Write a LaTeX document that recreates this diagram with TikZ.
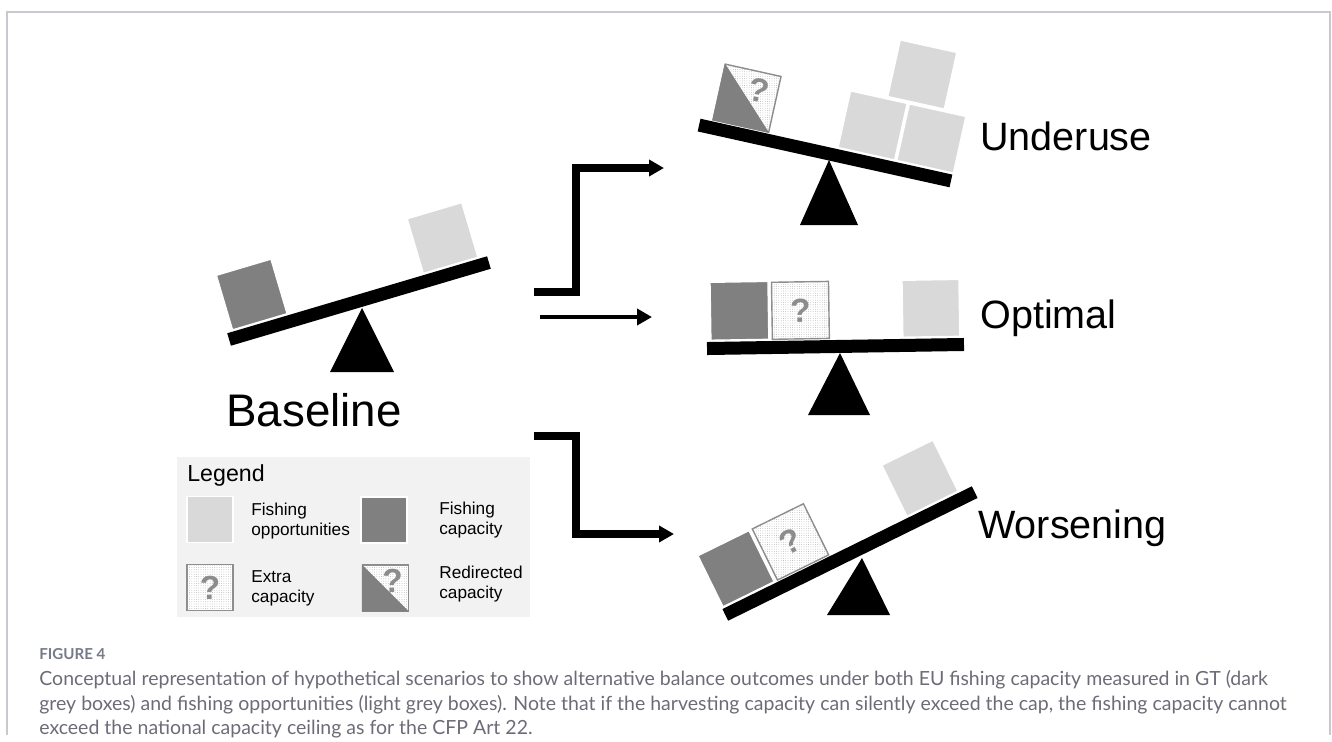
\documentclass[tikz,border=0pt]{standalone}
\usepackage{fontspec}
\setmainfont{Liberation Sans}
\newfontfamily\capfont{Lato}
\usepackage{tikz}
\usetikzlibrary{positioning,arrows.meta,calc,patterns.meta}
\definecolor{LightBox}{RGB}{217,217,217}
\definecolor{DarkBox}{RGB}{128,128,128}
\definecolor{QMark}{RGB}{140,140,140}
\definecolor{LegendBg}{RGB}{242,242,242}
\definecolor{FrameLine}{RGB}{200,200,206}
\definecolor{CapText}{RGB}{108,108,120}
\definecolor{CapHead}{RGB}{118,122,138}

\begin{document}
\begin{tikzpicture}[
    x=0.02cm, y=0.02cm,
    box/.style={rectangle, inner sep=0pt, draw=white, line width=0.8pt,
        minimum size=1.14cm, anchor=south},
    light/.style={box, fill=LightBox},
    dark/.style={box, fill=DarkBox},
    extra/.style={box, draw=QMark, fill=white,
        postaction={pattern={Dots[distance=1.3pt,radius=0.22pt]}, pattern color=gray!70},
        text=QMark, font=\fontsize{19}{19}\selectfont\bfseries},
    qmark/.style={inner sep=0pt, text=QMark, font=\fontsize{19}{19}\selectfont\bfseries},
    keybox/.style={minimum size=0.92cm, anchor=center},
    lbl/.style={anchor=west, inner sep=0pt, font=\fontsize{22.5}{27}\selectfont},
    key/.style={anchor=west, align=left, inner sep=0pt, font=\fontsize{9.8}{11.3}\selectfont},
    capline/.style={anchor=west, inner sep=0pt, text=CapText, font=\capfont\fontsize{11.1}{13}\selectfont},
    flow/.style={-{Triangle[length=0.3cm,width=0.32cm]}, line width=4pt}
]
\useasboundingbox (0,0) rectangle (1332,-741);
\draw[FrameLine, line width=1.2pt] (7,-735) -- (7,-12) -- (1330,-12) -- (1330,-735);

% baseline
\begin{scope}[shift={(359,-301)}, rotate=16.5, transform shape]
\fill (-135.5,-6.5) rectangle (135.5,6.5);
\node[dark]  (b1) at (-101,7.5) {};
\node[light] (b2) at (98,7.5) {};
\end{scope}
\fill (362,-308) -- (394,-372) -- (330,-372) -- cycle;
\node[anchor=west, inner sep=0pt, font=\fontsize{26}{30}\selectfont] (base) at (226,-410) {Baseline};

% underuse
\begin{scope}[shift={(825,-153)}, rotate=-12.5, transform shape]
\fill (-129,-6.5) rectangle (129,6.5);
\node[extra] (u1) at (-88,7.5) {};
\node[qmark] (u1q) at ($(u1.center)!0.35!(u1.north east)$) {?};
\fill[DarkBox] (u1.north west) -- (u1.south east) -- (u1.south west) -- cycle;
\node[light, minimum size=1.16cm] (u2) at (40.5,7.5) {};
\node[light, minimum size=1.16cm] (u3) at (100.7,7.5) {};
\node[light, minimum size=1.16cm] (u4) at (78,68) {};
\end{scope}
\fill (829,-160) -- (858,-225) -- (800,-225) -- cycle;
\node[lbl] (under) at (980,-136) {Underuse};

% optimal
\begin{scope}[shift={(835.5,-346.5)}, rotate=0.9, transform shape]
\fill (-128.5,-6.5) rectangle (128.5,6.5);
\node[dark, minimum size=1.16cm] (o1) at (-95.5,7.5) {};
\node[extra] (o2) at (-34.5,7.5) {?};
\node[light] (o3) at (96,7.5) {};
\end{scope}
\fill (840,-353) -- (870,-415) -- (808,-415) -- cycle;
\node[lbl] (opt) at (980,-318) {Optimal};

% worsening
\begin{scope}[shift={(850,-553.5)}, rotate=26.2, transform shape]
\fill (-139,-6.5) rectangle (139,6.5);
\node[dark]  (w1) at (-109,7.5) {};
\node[extra] (w2) at (-48.3,7.5) {?};
\node[light] (w3) at (96,7.5) {};
\end{scope}
\fill (862,-558) -- (890,-615) -- (827,-615) -- cycle;
\node[lbl] (worse) at (978,-528) {Worsening};

% arrows
\coordinate (upS) at (534,-292);
\coordinate (upE) at (664,-168);
\coordinate (midS) at (540,-317);
\coordinate (midE) at (652,-317);
\coordinate (dnS) at (534,-436);
\coordinate (dnE) at (674,-534);
\draw[flow] (upS) -- ++(42,0) |- (upE);
\draw[flow, line width=2.2pt] (midS) -- (midE);
\draw[flow] (dnS) -- ++(42,0) |- (dnE);

% legend
\node[fill=LegendBg, inner sep=0pt, minimum width=7.06cm, minimum height=3.2cm,
    anchor=north west] (legend) at (177,-457) {};
\node[anchor=west, inner sep=0pt, font=\fontsize{13.2}{15}\selectfont] (ltitle) at (187,-475) {Legend};
\node[light, keybox] (kopp) at (210,-519.5) {};
\node[key] (topp) at (251,-521) {Fishing\\opportunities};
\node[dark, keybox] (kcap) at (384,-520) {};
\node[key] (tcap) at (439,-520) {Fishing\\capacity};
\node[extra, keybox] (kext) at (210,-587.5) {?};
\node[key] (text) at (251,-588) {Extra\\capacity};
\node[extra, keybox] (kred) at (385.5,-588) {};
\node[qmark] (kredq) at ($(kred.center)!0.3!(kred.north east)$) {?};
\fill[DarkBox] (kred.north west) -- (kred.south east) -- (kred.south west) -- cycle;
\node[key] (tred) at (439,-584) {Redirected\\capacity};

% caption
\node[anchor=west, inner sep=0pt, text=CapHead, font=\capfont\bfseries\fontsize{8.6}{10}\selectfont] (fig) at (39,-654) {FIGURE 4};
\node[capline] (cap1) at (39,-680) {Conceptual representation of hypothetical scenarios to show alternative balance outcomes under both EU fishing capacity measured in GT (dark};
\node[capline] (cap2) at (39,-705) {grey boxes) and fishing opportunities (light grey boxes). Note that if the harvesting capacity can silently exceed the cap, the fishing capacity cannot};
\node[capline] (cap3) at (39,-729) {exceed the national capacity ceiling as for the CFP Art 22.};
\end{tikzpicture}
\end{document}
